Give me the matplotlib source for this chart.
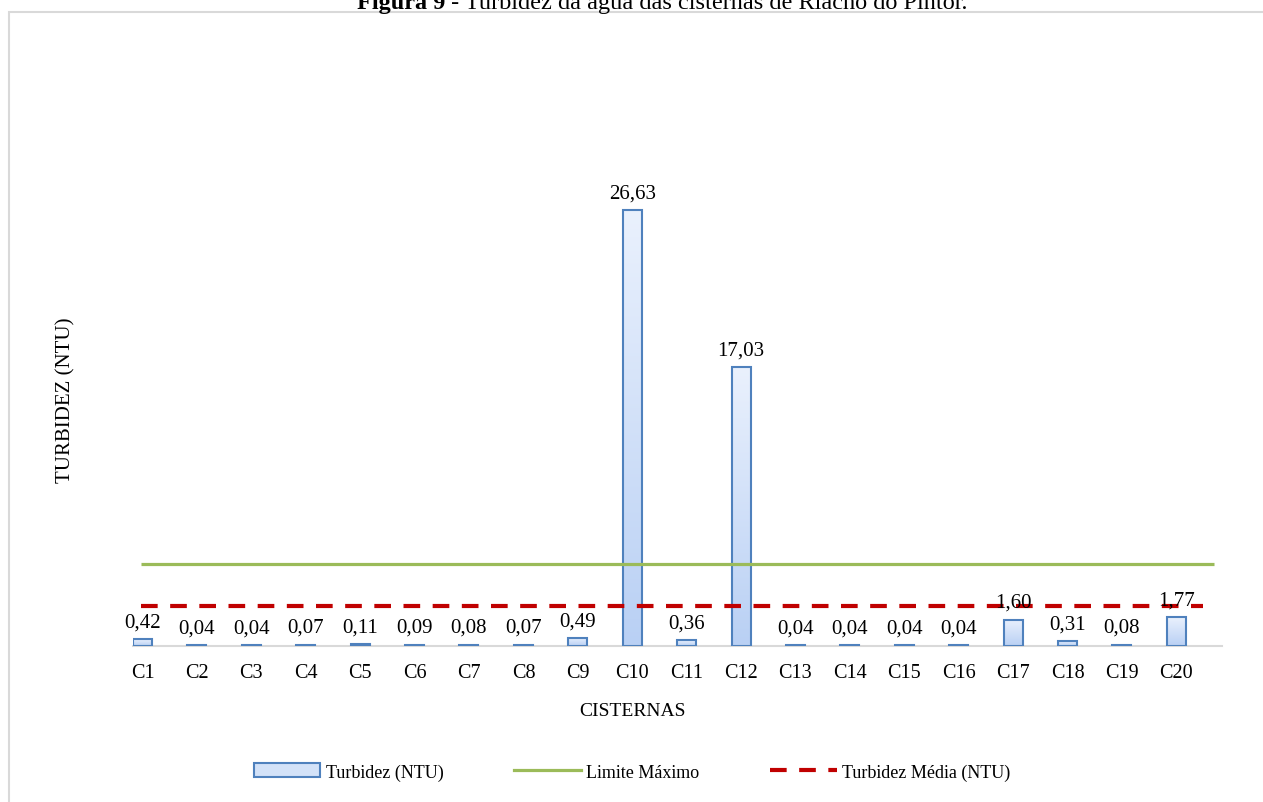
import matplotlib
matplotlib.use("Agg")
import matplotlib.pyplot as plt
import numpy as np
from matplotlib.patches import Rectangle, Patch
from matplotlib.lines import Line2D
from matplotlib.colors import LinearSegmentedColormap

plt.rcParams['font.family'] = ['Liberation Serif', 'DejaVu Serif']

categories = ["C1", "C2", "C3", "C4", "C5", "C6", "C7", "C8", "C9", "C10",
              "C11", "C12", "C13", "C14", "C15", "C16", "C17", "C18", "C19", "C20"]
turbidez = [0.42, 0.04, 0.04, 0.07, 0.11, 0.09, 0.08, 0.07, 0.49, 26.63,
            0.36, 17.03, 0.04, 0.04, 0.04, 0.04, 1.60, 0.31, 0.08, 1.77]
limite_maximo = 5.0
turbidez_media = float(np.mean(turbidez))

W, H = 1263, 803
fig = plt.figure(figsize=(W / 100, H / 100), dpi=100)

# outer chart border (cropped at right / bottom)
fig.patches.append(Rectangle((8.5 / W, -0.2), 1.2, 1.2 - 12.5 / H,
                             transform=fig.transFigure, fill=False,
                             edgecolor='#d9d9d9', linewidth=1.5))

ax = fig.add_axes([133 / W, 1 - 647 / H, (1222 - 133) / W, (647 - 156) / H])
x = np.arange(len(categories))
bars = ax.bar(x, turbidez, width=0.35, facecolor='none', edgecolor='#4f81bd',
              linewidth=1.5, zorder=3)

# gradient fill
grad = np.linspace(0, 1, 256).reshape(-1, 1)
cmap = LinearSegmentedColormap.from_list('g', ['#b9d0f4', '#eaf1fd'])
for b in bars:
    x0, w, h = b.get_x(), b.get_width(), b.get_height()
    im = ax.imshow(grad, cmap=cmap, extent=[x0, x0 + w, 0, h], origin='lower',
                   aspect='auto', zorder=2)
    im.set_clip_path(b)

ax.set_xlim(-0.175, 19.84)
ax.set_ylim(0, 30)

ax.plot([-0.03, 19.69], [limite_maximo, limite_maximo], color='#9bbb59',
        linewidth=2.3, zorder=4, solid_capstyle='butt')
ax.plot([-0.03, 19.49], [turbidez_media, turbidez_media], color='#c00000',
        linewidth=3, linestyle=(0, (4.0, 3.0)), zorder=4)

for xi, v in zip(x, turbidez):
    ax.annotate(f"{v:.2f}".replace('.', ','), (xi, v), xytext=(0, 12.5),
                textcoords='offset points', ha='center', va='center',
                fontsize=15, zorder=5)

for s in ['top', 'right', 'left']:
    ax.spines[s].set_visible(False)
ax.spines['bottom'].set_color('#d9d9d9')
ax.spines['bottom'].set_linewidth(1.5)
ax.set_yticks([])
ax.set_xticks(x)
ax.set_xticklabels(categories, fontsize=14.5)
ax.tick_params(axis='x', length=0, pad=12)
fig.text(632 / W, 1 - 712 / H, "CISTERNAS", fontsize=14, ha='center', va='center')
fig.text(66 / W, 1 - 400 / H, "TURBIDEZ (NTU)", rotation=90, fontsize=15,
         ha='center', va='center')
ax.set_facecolor('none')

handles = [Patch(facecolor='#d3e2f8', edgecolor='#4f81bd', linewidth=1.5),
           Line2D([0], [0], color='#9bbb59', linewidth=2.3),
           Line2D([0], [0], color='#c00000', linewidth=3, linestyle=(0, (4.0, 3.0)))]
labels = ["Turbidez (NTU)", "Limite Máximo", "Turbidez Média (NTU)"]
fig.legend(handles, labels, loc='center', bbox_to_anchor=(632 / W, 1 - 773 / H),
           ncol=3, frameon=False, fontsize=13, handlelength=3.7,
           handleheight=0.8, handletextpad=0.3, columnspacing=3.9)

# title with bold prefix, centred, partially cropped at top
r = fig.canvas.get_renderer()
t1 = fig.text(0, 1 - 9 / H, "Figura 9", fontsize=17.5, fontweight='bold', va='baseline')
t2 = fig.text(0, 1 - 9 / H, " - Turbidez da água das cisternas de Riacho do Pintor.",
              fontsize=17.5, va='baseline')
w1 = t1.get_window_extent(r).width
w2 = t2.get_window_extent(r).width
start = 662 - (w1 + w2) / 2
t1.set_x(start / W)
t2.set_x((start + w1) / W)

fig.savefig("out.png", dpi=100)
